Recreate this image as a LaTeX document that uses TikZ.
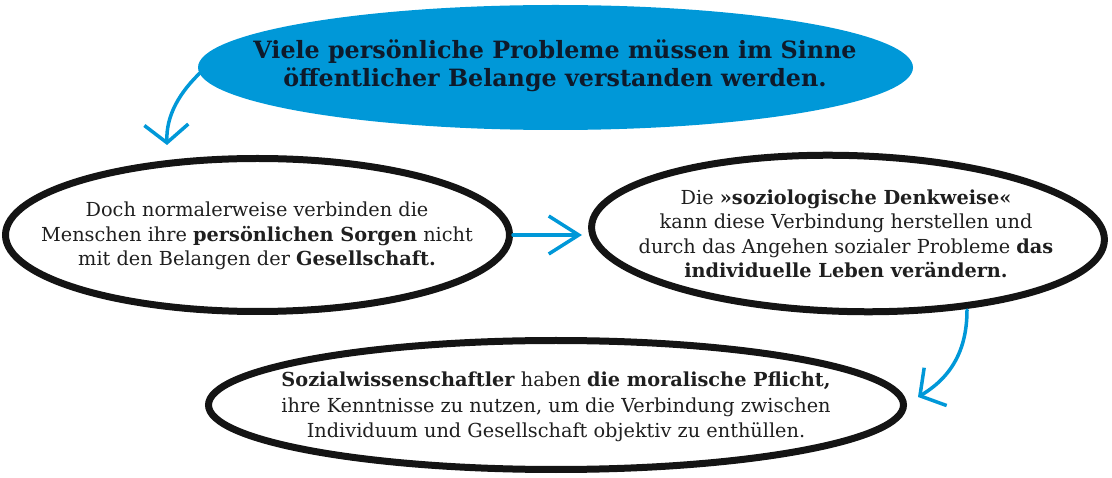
\documentclass[tikz,border=0pt]{standalone}
\usepackage{fontspec}
\setmainfont{DejaVu Serif}
\usetikzlibrary{shapes.geometric,arrows.meta}
\definecolor{tblue}{HTML}{0098D8}
\definecolor{navy}{HTML}{0E1A2B}
\begin{document}
\begin{tikzpicture}[x=1pt,y=-1pt,
  bubble/.style={ellipse, draw=black!92, line width=7pt, inner sep=0pt},
  body/.style={align=center, inner sep=0pt, text=black!88, font=\fontsize{19.3}{24.5}\selectfont},
  conn/.style={draw=tblue, line width=3.5pt, line cap=round,
    -{Straight Barb[length=18pt,width=44pt,line width=3.5pt]}},
  connstraight/.style={draw=tblue, line width=3.5pt, line cap=round,
    -{Straight Barb[length=30pt,width=38pt,line width=3.5pt]}}
]
\useasboundingbox (0,0) rectangle (1112,478);
% top blue ellipse
\node[ellipse, fill=tblue, minimum width=715pt, minimum height=125pt, inner sep=0pt] (top) at (555.5,67.5) {};
\node[align=center, inner sep=0pt, text=navy, font=\bfseries\fontsize{23.8}{28}\selectfont] (toptext) at (555,66)
  {Viele persönliche Probleme müssen im Sinne\\öffentlicher Belange verstanden werden.};
% left ellipse
\node[bubble, minimum width=504pt, minimum height=153pt] (left) at (257.5,235) {};
\node[body] (lefttext) at (257,236)
  {Doch normalerweise verbinden die\\Menschen ihre \textbf{persönlichen Sorgen} nicht\\mit den Belangen der \textbf{Gesellschaft.}};
% right ellipse
\node[bubble, minimum width=513pt, minimum height=156pt, rotate=-1.5] (right) at (848,233.5) {};
\node[body] (righttext) at (846,234)
  {Die \textbf{»soziologische Denkweise«}\\kann diese Verbindung herstellen und\\durch das Angehen sozialer Probleme \textbf{das}\\\textbf{individuelle Leben verändern.}};
% bottom ellipse
\node[bubble, minimum width=695pt, minimum height=129pt] (bottom) at (556,405) {};
\node[body, font=\fontsize{19.3}{25.5}\selectfont] (bottomtext) at (556,407)
  {\textbf{Sozialwissenschaftler} haben \textbf{die moralische Pflicht,}\\ihre Kenntnisse zu nutzen, um die Verbindung zwischen\\Individuum und Gesellschaft objektiv zu enthüllen.};
% connector end points
\coordinate (startA) at (201,72);
\coordinate (tipA) at (167,145);
\coordinate (tipB) at (582,235);
\coordinate (startC) at (967,310);
\coordinate (tipC) at (918,397);
% connectors
\draw[conn] (startA) .. controls (180,92) and (166,115) .. (tipA);
\draw[connstraight] (left.east) -- (tipB);
\draw[conn] (startC) .. controls (967,345) and (955,375) .. (tipC);
\end{tikzpicture}
\end{document}
